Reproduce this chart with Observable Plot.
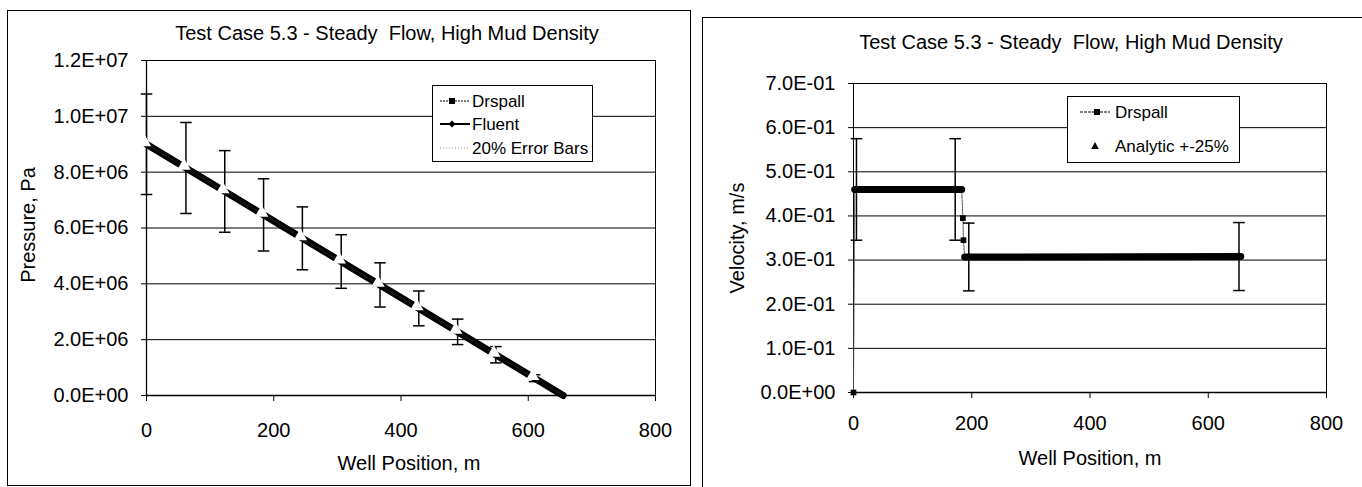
<!DOCTYPE html>
<html><head><meta charset="utf-8">
<script src="https://cdn.jsdelivr.net/npm/d3@7"></script>
<script src="https://cdn.jsdelivr.net/npm/@observablehq/plot@0.6"></script>
<style>
body{margin:0;background:#fff;}
#wrap{position:relative;width:1362px;height:487px;overflow:hidden;font-family:"Liberation Sans",Arial,sans-serif;color:#000;background:#fff;}
.box{position:absolute;border:1.5px solid #000;box-sizing:border-box;}
.t{position:absolute;white-space:pre;transform:translate(-50%,-50%);line-height:1;}
.legend{position:absolute;border:1.5px solid #000;background:#fff;box-sizing:border-box;}
.abs{position:absolute;}
</style></head><body><div id="wrap"></div>
<script>
// ---------- data ----------
const chartTitle = "Test Case 5.3 - Steady  Flow, High Mud Density";
const xAxisTitle = "Well Position, m";
const pressureAxisTitle = "Pressure, Pa";
const velocityAxisTitle = "Velocity, m/s";

const positionTicks = [0, 200, 400, 600, 800];
const positionTickLabels = ["0", "200", "400", "600", "800"];
const pressureTicks = [0, 2e6, 4e6, 6e6, 8e6, 1e7, 1.2e7];
const pressureTickLabels = ["0.0E+00", "2.0E+06", "4.0E+06", "6.0E+06", "8.0E+06", "1.0E+07", "1.2E+07"];
const velocityTicks = [0, 0.1, 0.2, 0.3, 0.4, 0.5, 0.6, 0.7];
const velocityTickLabels = ["0.0E+00", "1.0E-01", "2.0E-01", "3.0E-01", "4.0E-01", "5.0E-01", "6.0E-01", "7.0E-01"];

// Pressure chart
const drspallPressX = [0, 655];
const drspallPressY = [9.0e6, 0];
const fluentPressX = [0, 655];
const fluentPressY = [9.0e6, 0];
const errPressX = [0, 62, 123, 184, 245, 306, 367, 428, 489, 549, 610];
const errPressY = [9.0e6, 8.15e6, 7.31e6, 6.47e6, 5.63e6, 4.80e6, 3.96e6, 3.12e6, 2.28e6, 1.46e6, 0.62e6];
const errPressFrac = 0.20;

// Velocity chart
const drspallVelX = [0, 2, 183, 185, 186, 188, 655];
const drspallVelY = [0, 0.46, 0.46, 0.395, 0.345, 0.307, 0.308];
const plateau1X = [2, 183];
const plateau1Y = [0.46, 0.46];
const plateau2X = [188, 655];
const plateau2Y = [0.307, 0.308];
const drspallVelMarkX = [0, 185, 186];
const drspallVelMarkY = [0, 0.395, 0.345];
const analyticX = [5, 172, 195, 652];
const analyticY = [0.46, 0.46, 0.307, 0.308];
const analyticFrac = 0.25;

// ---------- helpers ----------
const FONT = "Liberation Sans, Arial, sans-serif";
const zip = (xs, ys) => xs.map((x, i) => ({x, y: ys[i]}));
const capSymbol = {draw(ctx, size) { const w = Math.sqrt(size); ctx.moveTo(-w / 2, 0); ctx.lineTo(w / 2, 0); }};
const fmt = (ticks, labels) => d => labels[ticks.indexOf(d)];

const wrap = document.getElementById("wrap");
function add(html) { wrap.insertAdjacentHTML("beforeend", html); }
function place(svg, x) { svg.style.position = "absolute"; svg.style.left = x + "px"; svg.style.top = "0px"; wrap.appendChild(svg); }

// boxes
add(`<div class="box" style="left:7px;top:10px;width:684px;height:476px"></div>`);
add(`<div class="box" style="left:702px;top:17px;width:700px;height:520px"></div>`);

// ---------- left: pressure ----------
const pressErr = zip(errPressX, errPressY).map(d => ({...d, lo: d.y * (1 - errPressFrac), hi: d.y * (1 + errPressFrac)}));
const left = Plot.plot({
  width: 690, height: 487,
  marginLeft: 146, marginRight: 35, marginTop: 60, marginBottom: 92,
  style: {fontFamily: FONT, fontSize: "20px", color: "#000", background: "transparent", overflow: "visible"},
  x: {domain: [0, 800]},
  y: {domain: [0, 1.2e7]},
  marks: [
    Plot.gridY(pressureTicks, {stroke: "#000", strokeOpacity: 1, strokeWidth: 1}),
    Plot.ruleX([800], {stroke: "#000", strokeWidth: 1}),
    Plot.ruleX([0], {stroke: "#000", strokeWidth: 1.3}),
    Plot.ruleY([0], {stroke: "#000", strokeWidth: 1.3}),
    Plot.line(zip(drspallPressX, drspallPressY), {x: "x", y: "y", stroke: "#000", strokeWidth: 7}),
    Plot.line(zip(fluentPressX, fluentPressY), {x: "x", y: "y", stroke: "#111", strokeWidth: 2}),
    Plot.ruleX(pressErr, {x: "x", y1: "lo", y2: "hi", stroke: "#000", strokeWidth: 1.5}),
    Plot.dot(pressErr, {x: "x", y: "hi", symbol: capSymbol, r: 6.5, stroke: "#000", strokeWidth: 1.5, fill: "none"}),
    Plot.dot(pressErr, {x: "x", y: "lo", symbol: capSymbol, r: 6.5, stroke: "#000", strokeWidth: 1.5, fill: "none"}),
    Plot.dot(pressErr, {x: "x", y: "y", symbol: "triangle", r: 5, fill: "#fff", stroke: "none", dx: -2, dy: -2}),
    Plot.axisY({ticks: pressureTicks, tickFormat: fmt(pressureTicks, pressureTickLabels), tickSize: 5, tickPadding: 13, label: null}),
    Plot.axisX({ticks: positionTicks, tickFormat: fmt(positionTicks, positionTickLabels), tickSize: 6, tickPadding: 21, label: null})
  ]
});
place(left, 0);

// ---------- right: velocity ----------
const anErr = zip(analyticX, analyticY).map(d => ({...d, lo: d.y * (1 - analyticFrac), hi: d.y * (1 + analyticFrac)}));
const right = Plot.plot({
  width: 672, height: 487,
  marginLeft: 163, marginRight: 36, marginTop: 83, marginBottom: 95,
  style: {fontFamily: FONT, fontSize: "20px", color: "#000", background: "transparent", overflow: "visible"},
  x: {domain: [0, 800]},
  y: {domain: [0, 0.7]},
  marks: [
    Plot.gridY(velocityTicks, {stroke: "#000", strokeOpacity: 1, strokeWidth: 1}),
    Plot.ruleX([800], {stroke: "#000", strokeWidth: 1}),
    Plot.ruleX([0], {stroke: "#000", strokeWidth: 1}),
    Plot.ruleY([0], {stroke: "#000", strokeWidth: 1.3}),
    Plot.line(zip(drspallVelX, drspallVelY), {x: "x", y: "y", stroke: "#555", strokeWidth: 1, strokeDasharray: "2,1"}),
    Plot.line(zip(plateau1X, plateau1Y), {x: "x", y: "y", stroke: "#000", strokeWidth: 7}),
    Plot.line(zip(plateau2X, plateau2Y), {x: "x", y: "y", stroke: "#000", strokeWidth: 7}),
    Plot.dot(zip(drspallVelMarkX, drspallVelMarkY), {x: "x", y: "y", symbol: "square", r: 3.2, fill: "#000"}),
    Plot.ruleX(anErr, {x: "x", y1: "lo", y2: "hi", stroke: "#000", strokeWidth: 1.5}),
    Plot.dot(anErr, {x: "x", y: "hi", symbol: capSymbol, r: 6.5, stroke: "#000", strokeWidth: 1.5, fill: "none"}),
    Plot.dot(anErr, {x: "x", y: "lo", symbol: capSymbol, r: 6.5, stroke: "#000", strokeWidth: 1.5, fill: "none"}),
    Plot.dot(anErr, {x: "x", y: "y", symbol: "triangle", r: 3, fill: "#000"}),
    Plot.axisY({ticks: velocityTicks, tickFormat: fmt(velocityTicks, velocityTickLabels), tickSize: 5, tickPadding: 13, label: null}),
    Plot.axisX({ticks: positionTicks, tickFormat: fmt(positionTicks, positionTickLabels), tickSize: 6, tickPadding: 17, label: null})
  ]
});
place(right, 690);

// ---------- titles ----------
add(`<div class="t" style="left:387px;top:33px;font-size:20px">${chartTitle}</div>`);
add(`<div class="t" style="left:1071px;top:42px;font-size:20px">${chartTitle}</div>`);
add(`<div class="t" style="left:409px;top:463px;font-size:20px">${xAxisTitle}</div>`);
add(`<div class="t" style="left:1090px;top:458px;font-size:20px">${xAxisTitle}</div>`);
add(`<div class="t" style="left:28px;top:225px;font-size:20px;transform:translate(-50%,-50%) rotate(-90deg)">${pressureAxisTitle}</div>`);
add(`<div class="t" style="left:737px;top:238px;font-size:20px;transform:translate(-50%,-50%) rotate(-90deg)">${velocityAxisTitle}</div>`);

// ---------- legends ----------
function legend(left, top, w, h, rows) {
  let s = `<div class="legend" style="left:${left}px;top:${top}px;width:${w}px;height:${h}px"></div>`;
  s += `<svg class="abs" style="left:${left}px;top:${top}px;overflow:visible" width="${w}" height="${h}">`;
  rows.forEach(r => {
    const y = r.y - top;
    if (r.line) s += `<line x1="${r.x1 - left}" x2="${r.x2 - left}" y1="${y}" y2="${y}" stroke="${r.line}" stroke-width="${r.lw}" ${r.dash ? `stroke-dasharray="${r.dash}"` : ""}/>`;
    const mx = r.mx - left;
    if (r.marker === "square") s += `<rect x="${mx - 3}" y="${y - 3}" width="6" height="6" fill="#000"/>`;
    if (r.marker === "diamond") s += `<path d="M${mx},${y - 3.5}L${mx + 3.5},${y}L${mx},${y + 3.5}L${mx - 3.5},${y}Z" fill="#000"/>`;
    if (r.marker === "triangle") s += `<path d="M${mx},${y - 4}L${mx + 3.8},${y + 3}L${mx - 3.8},${y + 3}Z" fill="#000"/>`;
  });
  s += `</svg>`;
  rows.forEach(r => {
    s += `<div class="abs" style="left:${r.tx}px;top:${r.y}px;transform:translateY(-50%);font-size:17px;white-space:pre;line-height:1">${r.text}</div>`;
  });
  add(s);
}
legend(432, 85, 161, 77, [
  {y: 101, x1: 440, x2: 470, mx: 452, line: "#000", lw: 1, dash: "2,1", marker: "square", tx: 472, text: "Drspall"},
  {y: 124, x1: 440, x2: 470, mx: 452, line: "#000", lw: 2, marker: "diamond", tx: 472, text: "Fluent"},
  {y: 148, x1: 440, x2: 470, mx: 452, line: "#888", lw: 1, dash: "1,2", tx: 472, text: "20% Error Bars"}
]);
legend(1067, 96, 173, 67, [
  {y: 112, x1: 1080, x2: 1110, mx: 1097, line: "#000", lw: 1, dash: "3,1", marker: "square", tx: 1115, text: "Drspall"},
  {y: 146, mx: 1095, marker: "triangle", tx: 1115, text: "Analytic +-25%"}
]);
</script>
</body></html>
